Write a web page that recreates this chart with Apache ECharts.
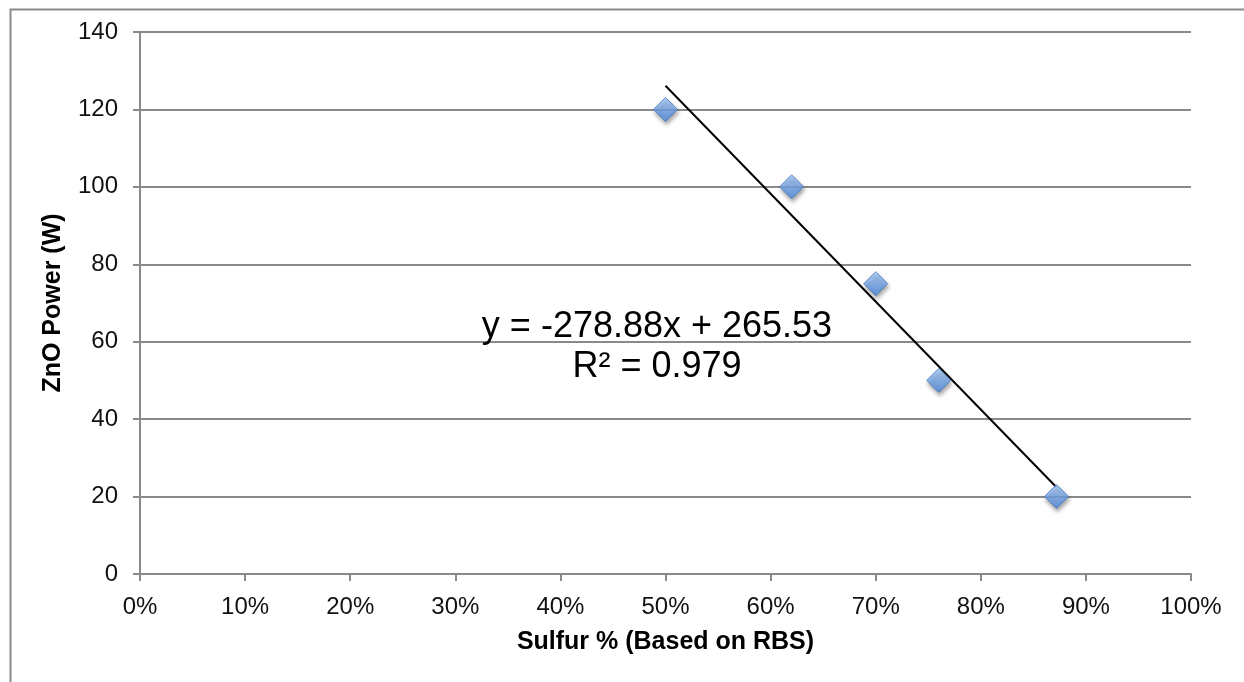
<!DOCTYPE html>
<html>
<head>
<meta charset="utf-8">
<script src="https://cdn.jsdelivr.net/npm/echarts@6/dist/echarts.min.js"></script>
<style>
html,body{margin:0;padding:0;background:#fff;}
#chart{width:1244px;height:682px;}
</style>
</head>
<body>
<div id="chart"></div>
<script>
// Data
const sulfurFraction = [0.50, 0.62, 0.70, 0.76, 0.872];
const znoPower = [120, 100, 75, 50, 20];
const trendX = [0.50, 0.872];
const trendY = [126.1, 22.4];
const equationText = ['y = -278.88x + 265.53', 'R² = 0.979'];
const xTitle = 'Sulfur % (Based on RBS)';
const yTitle = 'ZnO Power (W)';

const FONT = '"Liberation Sans", Arial, Helvetica, sans-serif';
const chart = echarts.init(document.getElementById('chart'));

const points = sulfurFraction.map((x, i) => [x, znoPower[i]]);
const trend = trendX.map((x, i) => [x, trendY[i]]);

chart.setOption({
  animation: false,
  grid: { left: 140, right: 53, top: 32, bottom: 108, containLabel: false },
  xAxis: {
    type: 'value', min: 0, max: 1, interval: 0.1,
    name: xTitle, nameLocation: 'middle', nameGap: 56, nameMoveOverlap: false,
    nameTextStyle: { fontFamily: FONT, fontWeight: 'bold', fontSize: 25, color: '#000' },
    axisLine: { show: true, lineStyle: { color: '#8a8a8a', width: 2 } },
    axisTick: { show: true, length: 7, inside: false, lineStyle: { color: '#8a8a8a', width: 2 } },
    axisLabel: { fontFamily: FONT, fontSize: 24, color: '#111', margin: 21,
      formatter: v => Math.round(v * 100) + '%' },
    splitLine: { show: false }
  },
  yAxis: {
    type: 'value', min: 0, max: 140, interval: 20,
    name: yTitle, nameLocation: 'middle', nameGap: 74, nameRotate: 90, nameMoveOverlap: false,
    nameTextStyle: { fontFamily: FONT, fontWeight: 'bold', fontSize: 25, color: '#000' },
    axisLine: { show: true, lineStyle: { color: '#8a8a8a', width: 2 } },
    axisTick: { show: true, length: 7, inside: false, lineStyle: { color: '#8a8a8a', width: 2 } },
    axisLabel: { fontFamily: FONT, fontSize: 24, color: '#111', margin: 22 },
    splitLine: { show: true, lineStyle: { color: '#8a8a8a', width: 2 } }
  },
  graphic: [
    { type: 'rect', left: 8, top: 7, shape: { width: 1260, height: 700 },
      style: { fill: 'none', stroke: '#8a8a8a', lineWidth: 2 }, z: -1 },
    { type: 'text', x: 657, y: 327, z: 100,
      style: { text: equationText[0], fontFamily: FONT, fontSize: 36, fill: '#000',
        textAlign: 'center', textVerticalAlign: 'middle' } },
    { type: 'text', x: 657, y: 367, z: 100,
      style: { text: equationText[1], fontFamily: FONT, fontSize: 36, fill: '#000',
        textAlign: 'center', textVerticalAlign: 'middle' } }
  ],
  series: [
    {
      type: 'line', data: trend, symbol: 'none', z: 3,
      lineStyle: { color: '#000', width: 2 }
    },
    {
      type: 'scatter', data: points, symbol: 'diamond', symbolSize: 24, z: 5,
      itemStyle: {
        color: new echarts.graphic.LinearGradient(0, 0, 0, 1, [
          { offset: 0, color: '#a8cbf8' },
          { offset: 1, color: '#4a88e2' }
        ]),
        borderColor: '#4479c4', borderWidth: 1,
        shadowBlur: 4, shadowColor: 'rgba(0,0,0,0.45)', shadowOffsetY: 3, shadowOffsetX: 1
      }
    }
  ]
});
</script>
</body>
</html>
